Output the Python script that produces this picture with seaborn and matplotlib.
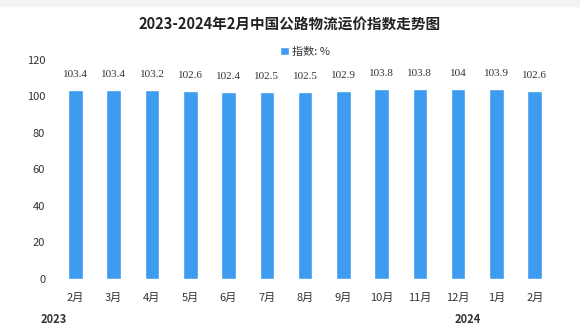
import matplotlib
matplotlib.use("Agg")
import matplotlib.pyplot as plt
import seaborn as sns
import pandas as pd

months = ["2月", "3月", "4月", "5月", "6月", "7月", "8月", "9月", "10月", "11月", "12月", "1月", "2月"]
values = [103.4, 103.4, 103.2, 102.6, 102.4, 102.5, 102.5, 102.9, 103.8, 103.8, 104, 103.9, 102.6]
value_labels = ["103.4", "103.4", "103.2", "102.6", "102.4", "102.5", "102.5", "102.9", "103.8", "103.8", "104", "103.9", "102.6"]
yticks = [0, 20, 40, 60, 80, 100, 120]
title = "2023-2024年2月中国公路物流运价指数走势图"
series_name = "指数: %"

sns.set_theme(style="white")
plt.rcParams["font.family"] = ["Noto Sans CJK SC", "DejaVu Sans"]

df = pd.DataFrame({"pos": [str(i) for i in range(len(months))], "value": values})

fig = plt.figure(figsize=(5.8, 3.35), dpi=100)
# faint grey strip along the top edge
fig.patches.append(plt.Rectangle((0, 0.982), 1, 0.018, transform=fig.transFigure,
                                 color="#f3f3f3", zorder=0))
ax = fig.add_axes([0.097, 0.167, 0.858, 0.655])
bar_color = "#3d9cf0"
sns.barplot(data=df, x="pos", y="value", color=bar_color, width=0.38,
            saturation=1, ax=ax, label=series_name)

ax.set_ylim(0, 120)
ax.set_yticks(yticks)
ax.set_yticklabels([str(t) for t in yticks], fontsize=8, color="#333333")
ax.set_xticks(range(len(months)))
ax.set_xticklabels(months, fontsize=8, color="#333333")
ax.set_xlim(-0.5, len(months) - 0.5)
ax.tick_params(axis="both", length=0, pad=8)
ax.tick_params(axis="x", pad=10)
ax.set_xlabel("")
ax.set_ylabel("")
for s in ax.spines.values():
    s.set_visible(False)

for i, (v, lab) in enumerate(zip(values, value_labels)):
    ax.text(i, v + 6, lab, ha="center", va="bottom", fontsize=8,
            family=["Liberation Serif", "DejaVu Serif"], color="#333333")

fig.text(0.5, 0.925, title, ha="center", va="center", fontsize=10.5,
         fontweight="bold", color="#222222")

leg = ax.legend(loc="center", bbox_to_anchor=(0.5, 1.035), frameon=False,
                fontsize=8, handlelength=0.8, handleheight=0.8, handletextpad=0.3)
for t in leg.get_texts():
    t.set_color("#333333")

fig.text(0.07, 0.045, "2023", fontsize=8, color="#333333", fontweight="bold", va="center")
fig.text(0.783, 0.045, "2024", fontsize=8, color="#333333", fontweight="bold", va="center")

fig.savefig("out.png", dpi=100)
